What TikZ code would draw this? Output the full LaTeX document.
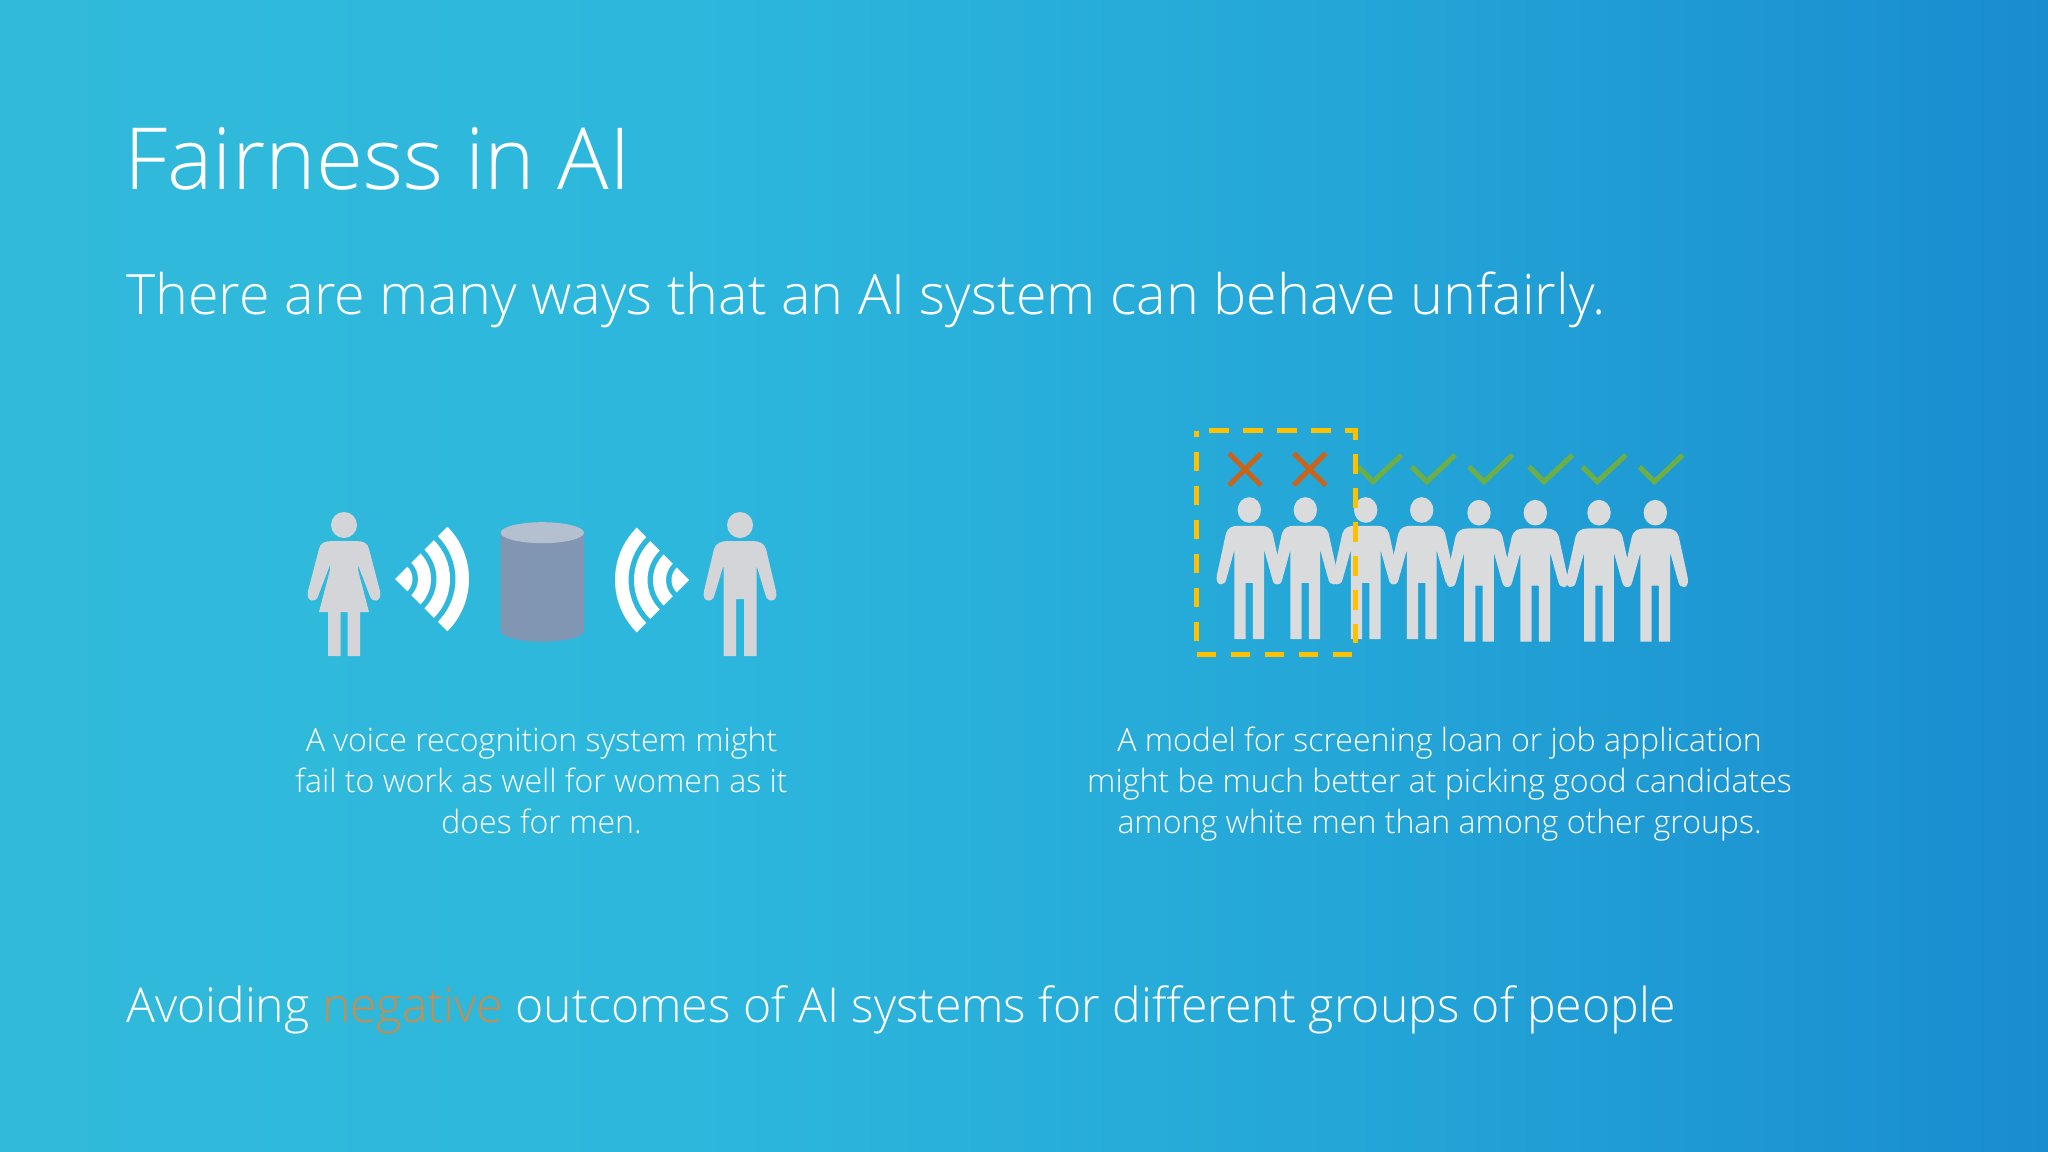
\documentclass[tikz,border=0pt]{standalone}
\usepackage{fontspec}
\setmainfont{Open Sans Light}
\definecolor{fig}{HTML}{D3D5D8}
\definecolor{figb}{HTML}{DADBDD}
\definecolor{xmark}{HTML}{C9641C}
\definecolor{okmark}{HTML}{6DAF45}
\definecolor{dashc}{HTML}{FFC000}
\definecolor{cylbody}{HTML}{8096B2}
\definecolor{cyltop}{HTML}{B4BFCF}
\definecolor{neg}{HTML}{C98C4C}
\definecolor{bga}{RGB}{49,186,217}
\definecolor{bgb}{RGB}{45,183,221}
\definecolor{bgc}{RGB}{36,166,215}
\definecolor{bgd}{RGB}{25,140,208}
\pgfdeclarehorizontalshading{slidebg}{100bp}{
 color(0bp)=(bga);
 color(25bp)=(bga);
 color(42bp)=(bgb);
 color(58bp)=(bgc);
 color(75bp)=(bgd);
 color(100bp)=(bgd)}
\tikzset{
 px/.style={x=0.02cm,y=-0.02cm},
 txt/.style={text=white,inner sep=0pt,anchor=base west},
 captxt/.style={text=white,inner sep=0pt,anchor=base,font=\fontsize{18.25}{22}\selectfont},
 crossm/.style={draw=xmark,line width=5*0.569pt},
 checkm/.style={draw=okmark,line width=5*0.569pt},
 pics/man/.style={code={
  \fill (0,0) circle (13);
  \fill (0,16) -- (12,16) .. controls (19,16) and (24,18) .. (26,24) -- (36,66)
    .. controls (38.5,78) and (27,78) .. (25.5,70) -- (17,42) -- (16.5,42) -- (16.5,131) -- (4,131) -- (4,74) -- (-4,74) -- (-4,131) -- (-16.5,131) -- (-16.5,42) -- (-17,42) -- (-25.5,70)
    .. controls (-27,78) and (-38.5,78) .. (-36,66) -- (-26,24) .. controls (-24,18) and (-19,16) .. (-12,16) -- cycle;
 }},
 pics/woman/.style={code={
  \fill (0,0) circle (13);
  \fill (0,16) -- (12,16) .. controls (19,16) and (24,18) .. (25,24) -- (36,66)
    .. controls (38.5,78) and (27,78) .. (25.5,70) -- (14,40) -- (14,45) -- (25,87) -- (16,87) -- (16,131) -- (3.5,131) -- (3.5,87) -- (-3.5,87) -- (-3.5,131) -- (-16,131) -- (-16,87) -- (-25,87) -- (-14,45) -- (-14,40) -- (-25.5,70)
    .. controls (-27,78) and (-38.5,78) .. (-36,66) -- (-25,24) .. controls (-24,18) and (-19,16) .. (-12,16) -- cycle;
 }},
 pics/wifi/.style={code={
  \fill (0,0) -- (-45:17.5) arc[start angle=-45,end angle=45,radius=17.5] -- cycle;
  \fill (-45:23) arc[start angle=-45,end angle=45,radius=23] -- (45:36) arc[start angle=45,end angle=-45,radius=36] -- cycle;
  \fill (-45:41.5) arc[start angle=-45,end angle=45,radius=41.5] -- (45:55) arc[start angle=45,end angle=-45,radius=55] -- cycle;
  \fill (-45:60.5) arc[start angle=-45,end angle=45,radius=60.5] -- (45:74) arc[start angle=45,end angle=-45,radius=74] -- cycle;
 }},
}
\newcommand{\xmk}[2]{\draw[crossm] (#1-16,#2-16) -- (#1+16,#2+16) (#1-16,#2+16) -- (#1+16,#2-16);}
\newcommand{\okm}[1]{\draw[checkm] (#1,466.7) -- (#1+15,481.7) -- (#1+43.5,455);}
\begin{document}
\begin{tikzpicture}[px]
\useasboundingbox (0,0) rectangle (2048,1152);
\shade[shading=slidebg] (0,0) rectangle (2048,1152);
% title block
\node[txt,font=\fontsize{48.8}{60}\selectfont] (title) at (124,190) {Fairness in AI};
\node[txt,font=\fontsize{31.7}{40}\selectfont] (sub) at (126,314) {There are many ways that an AI system can behave unfairly.};
% left illustration
\pic[fill=fig] at (344,525) {woman};
\pic[fill=fig] at (740,525) {man};
\pic[fill=white] at (395,579) {wifi};
\pic[fill=white,xscale=-1] at (689,580) {wifi};
\fill[cylbody] (500.7,532.7) -- (500.7,631) arc[start angle=180,end angle=0,x radius=41.65,y radius=10.7] -- (584,532.7) -- cycle;
\fill[cyltop] (542.35,532.7) ellipse (41.65 and 10.5);
% right illustration
\foreach \cx/\cy in {1249.3/510,1305.3/510,1365.7/510,1421.7/510,1479/512.7,1535.3/512.7,1599/512.7,1655.3/512.7}
  \pic[fill=figb,xscale=.9,yscale=.985] at (\cx,\cy) {man};
\xmk{1245}{469.3}
\xmk{1309.7}{469.3}
\foreach \k in {1358,1411.7,1469,1529,1582.3,1639.3} {\okm{\k}}
\draw[dashc,line width=5*0.569pt,dash pattern=on 19.3*0.569pt off 14.7*0.569pt]
  (1209.3,430.7) -- (1355.7,430.7) -- (1355.7,654.7) -- (1196,654.7) -- (1196,430.7);
% captions
\node[captxt] (l1) at (541.5,751) {A voice recognition system might};
\node[captxt] (l2) at (541.5,792) {fail to work as well for women as it};
\node[captxt] (l3) at (541.5,833) {does for men.};
\node[captxt] (r1) at (1439.5,751) {A model for screening loan or job application};
\node[captxt] (r2) at (1439.5,792) {might be much better at picking good candidates};
\node[captxt] (r3) at (1439.5,833) {among white men than among other groups.};
% bottom line
\node[txt,font=\fontsize{27.4}{36}\selectfont] (bottom) at (126,1022) {Avoiding \textcolor{neg}{negative} outcomes of AI systems for different groups of people};
\end{tikzpicture}
\end{document}
